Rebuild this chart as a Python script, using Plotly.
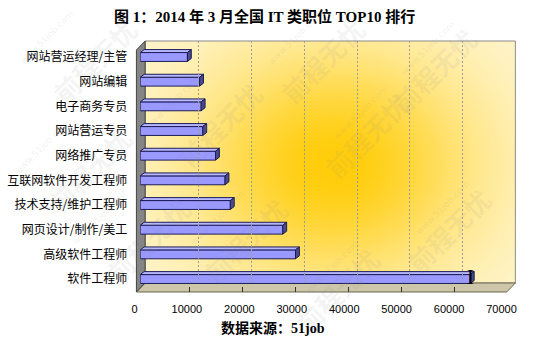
import base64, struct, zlib
import numpy as np
import plotly.graph_objects as go

# ---------------- data ----------------
categories = ["软件工程师", "高级软件工程师", "网页设计/制作/美工", "技术支持/维护工程师",
              "互联网软件开发工程师", "网络推广专员", "网站营运专员", "电子商务专员",
              "网站编辑", "网站营运经理/主管"]
values = [62300, 29300, 26900, 17000, 16000, 14200, 11800, 11500, 11200, 8900]
x_ticks = [0, 10000, 20000, 30000, 40000, 50000, 60000, 70000]
x_tick_labels = [str(t) for t in x_ticks]
title_text = "<b>图 1：2014 年 3 月全国 IT 类职位 TOP10 排行</b>"
source_text = "<b>数据来源：51job</b>"

W, H = 541, 342
def px(x): return x / W
def py(y): return 1 - y / H

# ---------------- gradient back wall image ----------------
bw_x0, bw_x1, bw_y0, bw_y1 = 147, 530, 41, 283
gw, gh = bw_x1 - bw_x0, bw_y1 - bw_y0
yy, xx = np.mgrid[0:gh, 0:gw]
cx, cy = 342 - bw_x0, 165 - bw_y0
d = np.sqrt(((xx - cx) / 1.25) ** 2 + (yy - cy) ** 2)
wgt = np.exp(-(d / 118.0) ** 2)
center = np.array([255, 205, 10], float)
outer = np.array([255, 247, 214], float)
img = (outer[None, None, :] + (center - outer)[None, None, :] * wgt[..., None]).clip(0, 255).astype(np.uint8)

def png_uri(arr):
    h, w, _ = arr.shape
    raw = b"".join(b"\x00" + arr[r].tobytes() for r in range(h))
    def chunk(t, dd):
        return struct.pack(">I", len(dd)) + t + dd + struct.pack(">I", zlib.crc32(t + dd) & 0xffffffff)
    png = (b"\x89PNG\r\n\x1a\n" + chunk(b"IHDR", struct.pack(">IIBBBBB", w, h, 8, 2, 0, 0, 0))
           + chunk(b"IDAT", zlib.compress(raw, 9)) + chunk(b"IEND", b""))
    return "data:image/png;base64," + base64.b64encode(png).decode()

# ---------------- 3D bar faces (computed from data) ----------------
h = 0.18     # half height of front face (category units)
dx = 730     # depth offset in value units
dy = 0.12    # depth offset in category units
fx, fy, tx, ty, ex, ey = [], [], [], [], [], []
for i, v in enumerate(values):
    y = i
    fx += [0, v, v, 0, 0, None]; fy += [y - h, y - h, y + h, y + h, y - h, None]
    tx += [0, v, v + dx, dx, 0, None]; ty += [y + h, y + h, y + h + dy, y + h + dy, y + h, None]
    ex += [v, v + dx, v + dx, v, v, None]; ey += [y - h, y - h + dy, y + h + dy, y + h, y - h, None]

edge = "#1c1c5a"
fig = go.Figure()
fig.add_trace(go.Scatter(x=fx, y=fy, fill="toself", fillcolor="#9999FF", mode="lines",
                         line=dict(color=edge, width=1), hoverinfo="skip", showlegend=False))
fig.add_trace(go.Scatter(x=tx, y=ty, fill="toself", fillcolor="#B8B8FF", mode="lines",
                         line=dict(color=edge, width=1), hoverinfo="skip", showlegend=False))
fig.add_trace(go.Scatter(x=ex, y=ey, fill="toself", fillcolor="#4a4a88", mode="lines",
                         line=dict(color=edge, width=1), hoverinfo="skip", showlegend=False))
# the "I" marker at the end of the top bar
fig.add_trace(go.Scatter(x=[values[0]], y=[0.02], mode="text", text=["I"],
                         textfont=dict(family="Liberation Serif", size=22, color="#000"),
                         hoverinfo="skip", showlegend=False, cliponaxis=False))
fig.add_trace(go.Scatter(x=[0], y=[0], xaxis="x2", yaxis="y2", mode="markers",
                         marker=dict(opacity=0), hoverinfo="skip", showlegend=False))
fig.add_trace(go.Scatter(x=[0], y=[0], xaxis="x3", yaxis="y", mode="markers",
                         marker=dict(opacity=0), hoverinfo="skip", showlegend=False))
fig.add_trace(go.Scatter(x=[0], y=[0], xaxis="x4", yaxis="y", mode="markers",
                         marker=dict(opacity=0), hoverinfo="skip", showlegend=False))

# ---------------- walls ----------------
shapes = []
def path(pts):
    return "M " + " L ".join(f"{px(a):.5f},{py(b):.5f}" for a, b in pts) + " Z"
shapes.append(dict(type="path", xref="paper", yref="paper", layer="below",
                   path=path([(bw_x0, bw_y0), (bw_x1, bw_y0), (bw_x1, bw_y1), (bw_x0, bw_y1)]),
                   line=dict(color="#8a8a8a", width=1), fillcolor="rgba(0,0,0,0)"))
shapes.append(dict(type="path", xref="paper", yref="paper", layer="below",
                   path=path([(138, 292), (147, 283), (530, 283), (521, 292)]),
                   line=dict(color="#6b6650", width=1), fillcolor="#cdc6a8"))
shapes.append(dict(type="path", xref="paper", yref="paper", layer="below",
                   path=path([(138, 50), (147, 41), (147, 283), (138, 292)]),
                   line=dict(color="#444", width=1), fillcolor="#858585"))

# ---------------- watermarks ----------------
annotations = []
wm = [(40, 60), (170, 125), (330, 60), (430, 135), (500, 70), (95, 240), (250, 240), (400, 290), (515, 230), (35, 170)]
for (a, b) in wm:
    annotations.append(dict(x=px(a), y=py(b), xref="paper", yref="paper", text="<b>前程无忧</b>",
                            showarrow=False, textangle=-45, yanchor="middle",
                            font=dict(family="Noto Sans CJK SC", size=26, color="rgba(140,140,140,0.10)")))
    annotations.append(dict(x=px(a - 28), y=py(b - 22), xref="paper", yref="paper", text="www.51job.com",
                            showarrow=False, textangle=-45, yanchor="middle",
                            font=dict(family="DejaVu Sans", size=9, color="rgba(140,140,140,0.12)")))

annotations.append(dict(x=px(270), y=py(17), xref="paper", yref="paper", text=title_text, showarrow=False,
                        xanchor="center", yanchor="middle",
                        font=dict(family="Liberation Serif, Noto Sans CJK SC", size=15, color="#000")))
annotations.append(dict(x=px(279), y=py(328), xref="paper", yref="paper", text=source_text, showarrow=False,
                        xanchor="center", yanchor="middle",
                        font=dict(family="Liberation Serif, Noto Sans CJK SC", size=14, color="#000")))

img_layer = [dict(source=png_uri(img), xref="paper", yref="paper", x=px(bw_x0), y=py(bw_y0),
                  sizex=px(bw_x1) - px(bw_x0), sizey=py(bw_y0) - py(bw_y1), sizing="stretch",
                  xanchor="left", yanchor="top", layer="below")]

ydom = [py(291.35), py(44.65)]
fig.update_layout(
    width=W, height=H, margin=dict(l=0, r=0, t=0, b=0),
    paper_bgcolor="white", plot_bgcolor="rgba(0,0,0,0)",
    shapes=shapes, annotations=annotations, images=img_layer,
    xaxis=dict(domain=[px(142), px(142 + 383.6)], range=[0, 70000], visible=False, anchor="y"),
    xaxis2=dict(domain=[px(147), px(147 + 383.6)], range=[0, 70000], anchor="y2",
                showgrid=True, gridcolor="#9c9c9c", griddash="2px,2px", gridwidth=1,
                tickvals=x_ticks, showticklabels=False, zeroline=False, showline=False),
    # floor tick marks (front edge of floor)
    xaxis3=dict(domain=[px(138), px(138 + 383.6)], range=[0, 70000], anchor="free", position=py(292),
                tickvals=x_ticks, showticklabels=False, ticks="inside", ticklen=5, tickcolor="#333",
                showgrid=False, zeroline=False, showline=False),
    # tick labels (slightly shifted left, as in the reference)
    xaxis4=dict(domain=[px(136), px(136 + 379.7)], range=[0, 70000], anchor="free", position=py(292),
                tickvals=x_ticks, ticktext=x_tick_labels, ticks="", showgrid=False, zeroline=False,
                showline=False, ticklabelstandoff=9,
                tickfont=dict(family="Liberation Sans", size=11, color="#000")),
    yaxis=dict(domain=ydom, range=[-0.5, 9.5], tickvals=list(range(len(categories))), ticktext=categories,
               anchor="x", showgrid=False, zeroline=False, showline=False, ticks="", ticklabelstandoff=12,
               tickfont=dict(family="Noto Sans CJK SC", size=12, color="#000")),
    yaxis2=dict(domain=[py(bw_y1), py(bw_y0)], range=[0, 1], visible=False, anchor="x2"),
)
fig.write_html("out.html")
